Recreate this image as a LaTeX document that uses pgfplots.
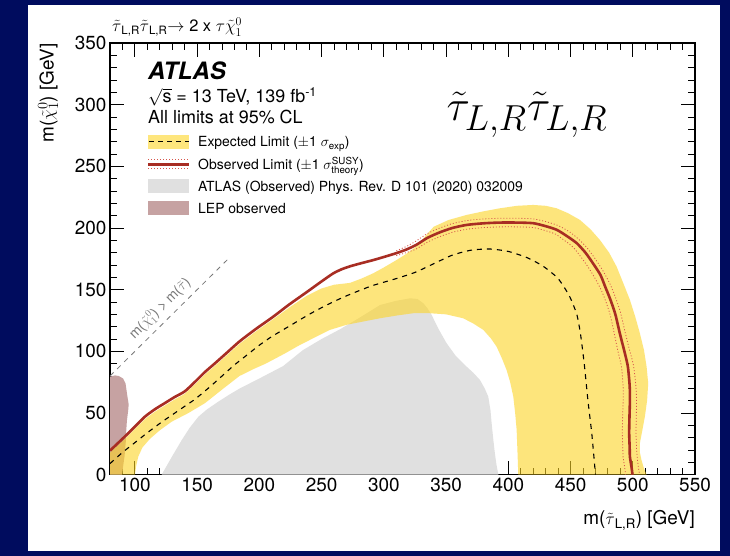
\documentclass[border=0pt]{standalone}
\usepackage{graphicx}
\usepackage{fontspec}
\setmainfont{TeX Gyre Heros}
\usepackage{pgfplots}
\pgfplotsset{compat=1.18}

\definecolor{navy}{RGB}{0,12,94}
\definecolor{bandyellow}{RGB}{253,213,38}
\definecolor{bandlight}{RGB}{254,230,125}
\definecolor{prevgray}{RGB}{224,224,224}
\definecolor{lepbrown}{RGB}{198,162,162}
\definecolor{obsred}{RGB}{168,45,35}
\definecolor{theored}{RGB}{215,85,75}
\definecolor{kingray}{RGB}{120,120,120}

\begin{document}
\begin{tikzpicture}[x=1bp,y=1bp]
\fill[navy] (0,0) rectangle (730,556);
\fill[white] (28,5) rectangle (720,551);
\begin{axis}[
  at={(110bp,81.3bp)}, anchor=south west,
  scale only axis, width=585bp, height=431.7bp,
  xmin=80, xmax=550, ymin=0, ymax=350,
  xtick={100,150,...,550}, ytick={0,50,...,350},
  minor xtick={80,90,...,550}, minor ytick={0,10,...,350},
  tick align=inside, xtick pos=both, ytick pos=both,
  xticklabel pos=bottom, yticklabel pos=left,
  major tick length=14bp, minor tick length=7bp,
  axis line style={line width=1.1bp},
  every tick/.style={black, line width=0.9bp},
  tick label style={font=\fontsize{19}{22}\selectfont},
  /pgf/number format/assume math mode=true,
]
% previous ATLAS observed exclusion
\addplot[draw=none, fill=prevgray] coordinates {
 (121.5,0)(130,15)(137.6,28)(144,38)(151,47)(158,53)(167,59.2)(176,65)(184.4,70)
 (200,78)(219,88)(235,101)(250,110)(265,118)(280,127)(297,137.6)(310,141)(321,143)
 (327,142.5)(331.7,139)(335,135)(338.4,129.5)(344,118)(350.4,106.6)(358,96)(366.5,87.6)
 (372,82.5)(377.2,76.8)(381,70)(383.9,63.3)(385.7,52)(386.6,41.7)(388,28)(389.2,17.4)
 (390.5,8)(392,0)} -- cycle;
% LEP
\addplot[draw=none, fill=lepbrown] coordinates {
 (80,0)(80,79.5)(84,80.5)(87,80)(90.5,78)(92.5,74)(93.6,66)(95,57)(94.6,52)
 (93.6,44)(93,35)(92.8,28)(91.7,15)(90.3,5)(89.6,0)} -- cycle;
% expected +-1 sigma band
\addplot[draw=none, fill=bandyellow, fill opacity=0.6] coordinates {
 (80,0)(80,18)(92,29)(100,37)(108,45)(116,51)(124,56)(132,61)(140,65.5)(148,73)
 (156,81)(164,88)(174,97)(184,106)(197,116)(211,126)(224,135.5)(238,145)(250,151)
 (260,154)(272.8,155.5)(282,159)(291.5,163.3)(300,168)(310.3,174.1)(318,179)(326,185)
 (333,193)(340,201)(352,206.5)(366.5,210.6)(380,213.5)(393.3,216)(407,218)(420,218.7)
 (430,218)(438.8,216)(448,212)(457.5,206.6)(466,199)(473.6,190.3)(481,180)(487,168.7)
 (492.5,155)(497.7,141.7)(502,128)(505.7,114.7)(509,101)(511.1,87.6)(512.4,74)
 (511.5,60)(509.7,47)(507.5,35)(505.7,25.5)(505.7,18)(507,11.9)(509,5)(511.1,0)
 (408,0)(407.5,15)(406.7,36.3)(405.5,50)(404,63.3)(401.5,75)(398.6,84.9)(395,94)
 (390.6,103.8)(386,110.5)(379.9,117.4)(372,122.5)(363.8,126.8)(350,130)(337,130.9)
 (323.6,130.9)(310,129)(296.9,126.8)(285,124.5)(270,121.5)(256.7,117.4)(245,111.5)
 (232.6,105.2)(220,98)(205,90)(195,85.5)(184,80)(170,69)(156.3,58)(143,50)(129.6,43)
 (120,36)(112,29)(106,22)(102.7,14.6)(101,7)(100,0)} -- cycle;
% kinematic limit
\addplot[kingray, line width=0.8bp, dash pattern=on 5bp off 5bp] coordinates {(80,80)(175,175)};
\node[rotate=44.7, text=kingray, font=\fontsize{14}{16}\selectfont] at (axis cs:120.2,134.8)
  {m($\tilde{\chi}^{0}_{1}$) > m($\tilde{\tau}$)};
% expected limit
\addplot[black, line width=1.1bp, dash pattern=on 5bp off 5bp, smooth, tension=0.4] coordinates {
 (80,9)(90,18)(100,26)(110,34)(122,43)(135,52)(148,61)(160,71)(170,80)(180,89)(190,97)
 (200,105)(210,112)(225,121)(240,130)(255,138)(270,145)(290,153)(310,159)(325,164)
 (340,171)(355,178)(370,182)(385,183)(400,181)(415,176)(428,169)(440,159)(449,145)
 (455,130)(458,114)(461,90)(464,60)(467,34)(469,12)(470,0)};
% observed +-1 sigma theory
\addplot[theored, line width=0.8bp, dash pattern=on 1bp off 2bp, smooth, tension=0.4] coordinates {
 (310,181.5)(318,185)(326,189.5)(335,195.5)(345,200)(355,203.5)(366.5,206)(380,207.3)
 (393,207.9)(407,207.9)(420,207.4)(430,205.2)(440,202)(449,197)(457,190.5)(464,183)
 (470.5,174)(476.5,164.5)(482,154)(486,144)(490,132)(493.5,117)(497,102.5)(500.5,89)
 (502.5,72)(503,60.6)(502.8,45)(502.6,33.6)(503,22)(503.5,14.6)(504.5,6)(505.5,0)};
\addplot[theored, line width=0.8bp, dash pattern=on 1bp off 2bp, smooth, tension=0.4] coordinates {
 (310,177.6)(318,180)(326,183)(335,188.5)(345,193)(355,196.5)(366.5,199)(380,200.3)
 (393,200.9)(407,200.9)(420,200.4)(430,197.8)(438,195)(445,190)(452,184.5)(458,177)
 (464,168.5)(469.5,159.5)(474.5,150)(478.5,140)(482,129)(485,115)(488,100.5)(491,87)
 (492.3,70)(492.3,60.6)(491.8,45)(491.6,33.6)(492,22)(492.2,14.6)(493.5,6)(494.2,0)};
% observed limit
\addplot[obsred, line width=2.6bp, smooth, tension=0.4] coordinates {
 (80,19.5)(92,31)(100,39)(108,47)(116,53)(124,58)(132,63)(140,67.5)(148,75)(156,83)
 (164,90)(174,99)(184,108)(197,118)(211,128)(224,138)(238,148)(249,156)(259,163)
 (266,166.5)(273,169)(282,171.5)(291.5,174)(300,176.5)(310,179.6)(318,182.5)(326,186.3)
 (335,192)(345,196.5)(355,200)(366.5,202.5)(380,203.8)(393,204.4)(407,204.4)(420,203.9)
 (430,201.5)(439,198.5)(447,193.5)(455,187.7)(462,180)(468,171.4)(474,162)(478,152)
 (482,142)(486,130)(489.5,115)(493,101)(496,88)(497.5,72)(497.7,60.6)(497.3,45)
 (497.1,33.6)(497.5,22)(497.7,14.6)(499,6)(499.8,0)};
\end{axis}

% axis titles
\node[anchor=north east, inner sep=0, font=\fontsize{19}{22}\selectfont] at (695,46)
  {m($\tilde{\tau}$\textsubscript{L,R}) [GeV]};
\node[rotate=90, anchor=base east, inner sep=0, font=\fontsize{19}{22}\selectfont] at (53.5,513)
  {m($\tilde{\chi}^{0}_{1}$) [GeV]};
\node[anchor=base west, inner sep=0, font=\fontsize{16.5}{19}\selectfont] at (112,524)
  {$\tilde{\tau}$\textsubscript{L,R}$\tilde{\tau}$\textsubscript{L,R}$\rightarrow$ 2 x $\tau\tilde{\chi}^{0}_{1}$};

% labels
\node[anchor=base west, inner sep=0, font=\fontsize{24}{28}\selectfont\bfseries\itshape] at (148,476) {ATLAS};
\node[anchor=base west, inner sep=0, font=\fontsize{18}{21}\selectfont] at (148,453.3)
  {$\sqrt{\mbox{s}}$ = 13 TeV, 139 fb\textsuperscript{-1}};
\node[anchor=base west, inner sep=0, font=\fontsize{18}{21}\selectfont] at (148,432) {All limits at 95\% CL};
\node at (527,441) {\scalebox{1.75}{\Huge$\tilde{\tau}_{L,R}\tilde{\tau}_{L,R}$}};

% legend
\fill[bandlight] (148,407.3) rectangle (189,421.3);
\draw[black, line width=1bp, dash pattern=on 5bp off 4bp] (149,414.3) -- (189,414.3);
\draw[theored, line width=0.8bp, dash pattern=on 1bp off 2bp] (148,396.2) -- (189,396.2);
\draw[theored, line width=0.8bp, dash pattern=on 1bp off 2bp] (148,387.2) -- (189,387.2);
\draw[obsred, line width=2.6bp] (148,391.7) -- (189,391.7);
\fill[prevgray] (148,363) rectangle (189,377);
\fill[lepbrown] (148,340.7) rectangle (189,354.7);
\begin{scope}[every node/.style={anchor=base west, inner sep=0, font=\fontsize{14}{16}\selectfont}]
\node at (198,409) {Expected Limit ($\pm$1 $\sigma_{\mathrm{exp}}$)};
\node at (198,386.4) {Observed Limit ($\pm$1 $\sigma^{\mathrm{SUSY}}_{\mathrm{theory}}$)};
\node at (198,364.7) {ATLAS (Observed) Phys. Rev. D 101 (2020) 032009};
\node at (198,342.4) {LEP observed};
\end{scope}
\end{tikzpicture}
\end{document}
